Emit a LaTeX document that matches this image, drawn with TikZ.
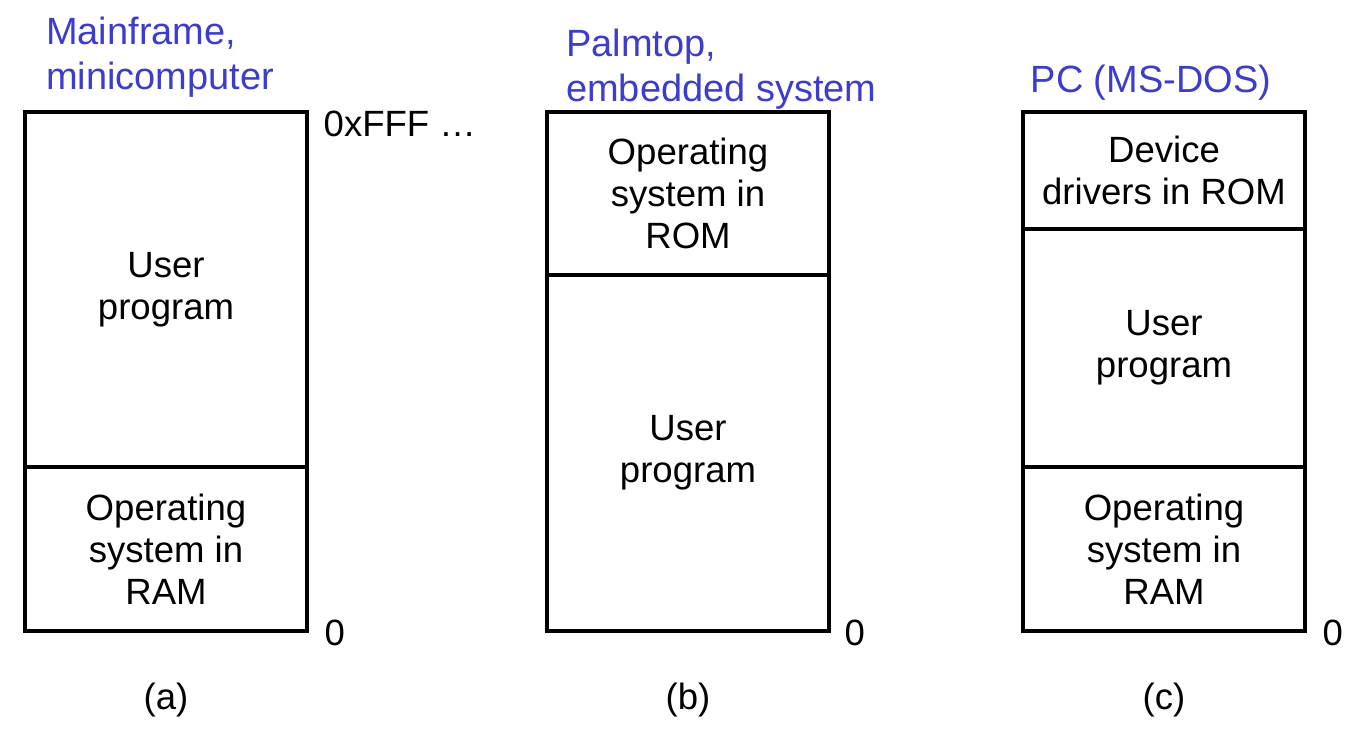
\documentclass[tikz,border=0pt]{standalone}
\usepackage{fontspec}
\setmainfont{Liberation Sans}
\usepackage{tikz}
\usetikzlibrary{positioning}

\definecolor{titleblue}{RGB}{60,60,205}

\begin{document}
\begin{tikzpicture}[
    memblock/.style={draw, line width=0.9pt, minimum width=2.82cm, inner sep=0pt,
        outer sep=0pt, align=center, font=\fontsize{10.4pt}{11.9pt}\selectfont},
    addr/.style={anchor=west, inner sep=0pt, font=\fontsize{10.4pt}{11.9pt}\selectfont},
    caption/.style={inner sep=0pt, font=\fontsize{10.4pt}{11.9pt}\selectfont},
    heading/.style={anchor=north west, inner sep=0pt, align=left, text=titleblue,
        font=\fontsize{10.8pt}{12.8pt}\selectfont}
]

    \useasboundingbox (0,0) rectangle (13.54,-7.32);

    % Layout (a): mainframe
    \node[heading] (titleA) at (0.455,-0.16) {Mainframe,\\minicomputer};
    \node[memblock, minimum height=3.55cm, anchor=north west] (userA) at (0.25,-1.12) {User\\program};
    \node[memblock, minimum height=1.64cm, below=0pt of userA] (osA) {Operating\\system in\\RAM};

    % Layout (b): palmtop
    \node[heading] (titleB) at (5.655,-0.28) {Palmtop,\\embedded system};
    \node[memblock, minimum height=1.63cm, anchor=north west] (romB) at (5.47,-1.12) {Operating\\system in\\ROM};
    \node[memblock, minimum height=3.56cm, below=0pt of romB] (userB) {User\\program};

    % Layout (c): PC
    \node[heading] (titleC) at (10.30,-0.64) {PC (MS-DOS)};
    \node[memblock, minimum height=1.17cm, anchor=north west] (romC) at (10.23,-1.12) {Device\\drivers in ROM};
    \node[memblock, minimum height=2.38cm, below=0pt of romC] (userC) {User\\program};
    \node[memblock, minimum height=1.64cm, below=0pt of userC] (osC) {Operating\\system in\\RAM};

    % Addresses
    \node[addr] (highA) at ([xshift=0.16cm, yshift=-0.12cm]userA.north east) {0xFFF …};
    \node[addr] (lowA) at ([xshift=0.17cm, yshift=-0.015cm]osA.south east) {0};
    \node[addr] (lowB) at ([xshift=0.15cm, yshift=-0.015cm]userB.south east) {0};
    \node[addr] (lowC) at ([xshift=0.17cm, yshift=-0.015cm]osC.south east) {0};

    % Captions
    \node[caption] (capA) at ([yshift=-0.69cm]osA.south) {(a)};
    \node[caption] (capB) at ([yshift=-0.69cm]userB.south) {(b)};
    \node[caption] (capC) at ([yshift=-0.69cm]osC.south) {(c)};

\end{tikzpicture}
\end{document}
